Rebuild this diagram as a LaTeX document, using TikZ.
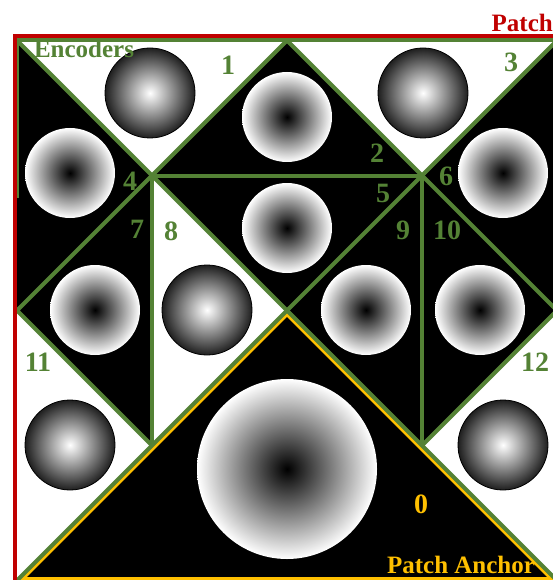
\documentclass[tikz,border=0pt]{standalone}
\usepackage{fontspec}
\setmainfont{Liberation Serif}
\definecolor{encgreen}{RGB}{84,130,53}
\definecolor{patchred}{RGB}{192,0,0}
\definecolor{anchoryel}{RGB}{255,192,0}
\tikzset{
  disc/.style={circle, minimum size=90pt, inner sep=0pt, shading=radial, inner color=black, outer color=white},
  bigdisc/.style={disc, minimum size=180pt},
  sphere/.style={circle, minimum size=90pt, inner sep=0pt, shading=radial, inner color=white, outer color=black!88, draw=black, line width=0.8pt},
  gline/.style={draw=encgreen, line width=4pt, line join=round},
  numlab/.style={inner sep=0pt, text=encgreen, font=\fontsize{28}{32}\selectfont\bfseries},
  biglab/.style={inner sep=0pt, font=\fontsize{25}{30}\selectfont\bfseries}
}
\begin{document}
\begin{tikzpicture}[x=1pt,y=-1pt]
\useasboundingbox (0,0) rectangle (553,580);
\clip (0,0) rectangle (553,580);
\fill[white] (0,0) rectangle (553,580);
% grid points
\coordinate (p00) at (17,40.5);
\coordinate (p20) at (287,40.5);
\coordinate (p40) at (557,40.5);
\coordinate (p11) at (152,175.5);
\coordinate (p31) at (422,175.5);
\coordinate (p02) at (17,310.5);
\coordinate (p22) at (287,310.5);
\coordinate (p42) at (557,310.5);
\coordinate (p13) at (152,445.5);
\coordinate (p33) at (422,445.5);
\coordinate (p04) at (16,581.5);
\coordinate (p44) at (558,581.5);
\coordinate (lgend) at (17,198);
% black triangles
\fill[black] (p20)--(p11)--(p31)--cycle;           % 2
\fill[black] (p00)--(p11)--(p02)--cycle;           % 4
\fill[black] (p11)--(p31)--(p22)--cycle;           % 5
\fill[black] (p40)--(p31)--(p42)--cycle;           % 6
\fill[black] (p11)--(p02)--(p13)--cycle;           % 7
\fill[black] (p31)--(p22)--(p33)--cycle;           % 9
\fill[black] (p31)--(p42)--(p33)--cycle;           % 10
\fill[black] (p04)--(p22)--(p44)--cycle;           % 0
% spheres and discs
\node[sphere] (s1) at (150,93) {};
\node[disc] (d2) at (287,117) {};
\node[sphere] (s3) at (423,93) {};
\node[disc] (d4) at (70,173) {};
\node[disc] (d5) at (287,228) {};
\node[disc] (d6) at (503,173) {};
\node[disc] (d7) at (95,310) {};
\node[sphere] (s8) at (207,310) {};
\node[disc] (d9) at (366,310) {};
\node[disc] (d10) at (480,310) {};
\node[sphere] (s11) at (70,445) {};
\node[sphere] (s12) at (503,445) {};
\node[bigdisc] (d0) at (287,469) {};
% yellow anchor border (inside triangle 0)
\begin{scope}
  \clip (p04)--(p22)--(p44)--cycle;
  \draw[anchoryel, line width=9pt, line join=miter] (p04)--(p22)--(p44)--cycle;
\end{scope}
% green encoder lines
\draw[gline] (p00)--(p40);
\draw[gline] (p00)--(lgend);
\draw[gline] (p00)--(p11)--(p20)--(p31)--(p40);
\draw[gline] (p11)--(p31);
\draw[gline] (p11)--(p22)--(p31);
\draw[gline] (p11)--(p02)--(p13);
\draw[gline] (p31)--(p42)--(p33);
\draw[gline] (p11)--(p13);
\draw[gline] (p31)--(p33);
\draw[gline] (p04)--(p22)--(p44);
% red patch border
\draw[patchred, line width=4pt] (14.5,36.5) rectangle (566,592);
% labels
\node[numlab] (n1) at (228,65) {1};
\node[numlab] (n2) at (377,153) {2};
\node[numlab] (n3) at (511,62) {3};
\node[numlab] (n4) at (130,181) {4};
\node[numlab] (n5) at (383,193) {5};
\node[numlab] (n6) at (446,176) {6};
\node[numlab] (n7) at (137,229) {7};
\node[numlab] (n8) at (171,231) {8};
\node[numlab] (n9) at (403,230) {9};
\node[numlab] (n10) at (447,230) {10};
\node[numlab] (n11) at (38,362) {11};
\node[numlab] (n12) at (535,362) {12};
\node[numlab, text=anchoryel] (n0) at (421,504) {0};
\node[biglab, text=encgreen] (enc) at (84,48.5) {Encoders};
\node[biglab, text=patchred, anchor=east] (patch) at (553,22.5) {Patch};
\node[biglab, text=anchoryel] (anchor) at (461,565) {Patch Anchor};
\end{tikzpicture}
\end{document}
